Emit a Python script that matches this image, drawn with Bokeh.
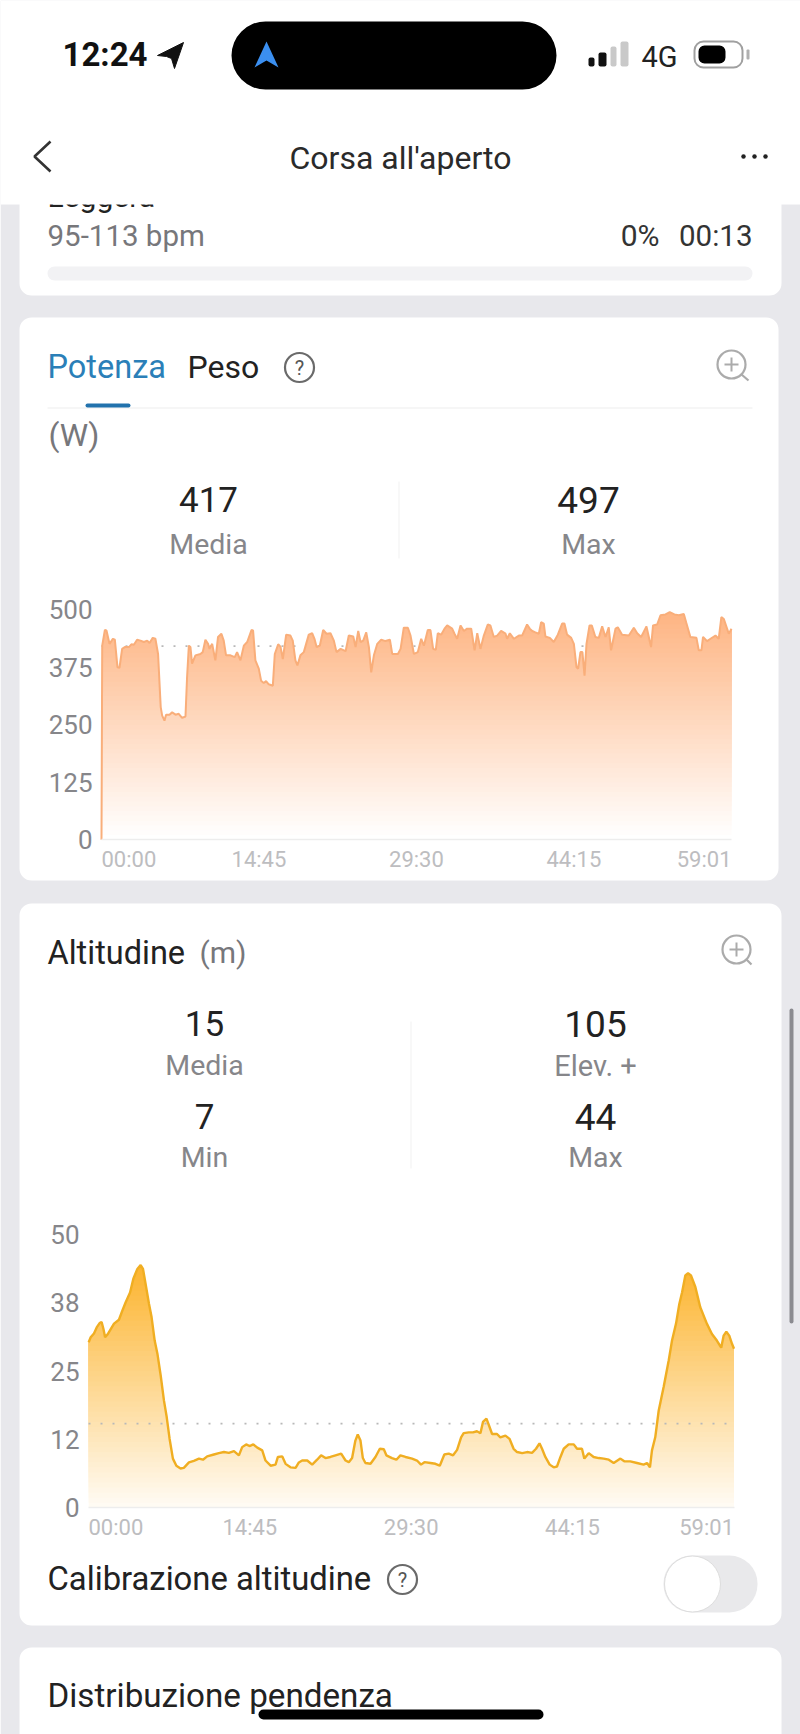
from bokeh.plotting import figure
from bokeh.models import Range1d, LinearAxis, FixedTicker
from bokeh.core.properties import value
from bokeh.embed import file_html
from bokeh.resources import INLINE

# ---------- chart data ----------
power_t = [0,4,19,28,45,64,75,90,101,116,131,154,168,182,200,219,238,257,270,288,303,318,333,341,354,363,382,397,416,434,453,472,481,491,500,509,528,556,569,584,599,607,622,640,655,674,687,700,725,749,762,781,800,819,843,852,865,884,897,912,925,940,963,974,993,1006,1019,1038,1062,1075,1090,1101,1118,1137,1165,1184,1197,1209,1227,1246,1265,1287,1306,1321,1344,1372,1390,1415,1428,1443,1456,1471,1488,1503,1516,1531,1550,1572,1596,1621,1634,1666,1681,1699,1722,1737,1756,1778,1797,1812,1834,1849,1864,1879,1890,1909,1928,1943,1971,1984,1999,2018,2037,2055,2078,2097,2112,2130,2149,2171,2186,2205,2224,2246,2271,2280,2295,2318,2346,2364,2392,2407,2421,2439,2458,2471,2486,2495,2520,2542,2565,2589,2602,2617,2640,2655,2670,2679,2692,2703,2715,2726,2743,2756,2776,2795,2814,2833,2851,2864,2889,2902,2926,2964,2992,3011,3033,3063,3089,3100,3123,3142,3170,3194,3220,3245,3273,3286,3310,3344,3357,3372,3381,3404,3423,3451,3469,3484,3498,3526,3541]
power_w = [0,422,456,455,426,437,435,375,374,415,419,419,425,424,435,433,430,433,428,439,437,404,288,270,259,272,272,277,272,274,265,268,354,422,419,383,401,404,408,435,426,415,426,390,441,448,433,401,401,397,408,390,422,430,456,455,390,372,346,341,345,338,335,404,425,420,393,446,444,433,390,379,401,408,446,449,437,419,422,456,448,449,433,408,415,410,444,442,419,454,430,433,451,419,364,401,426,435,432,435,404,404,415,461,461,444,404,408,437,422,456,456,415,413,449,446,459,466,459,448,437,466,454,459,459,412,449,415,444,468,466,441,444,454,448,437,449,437,444,444,468,459,454,451,448,473,470,442,439,430,446,470,470,446,439,426,375,372,408,408,357,426,466,466,441,439,464,441,462,412,459,462,446,444,461,449,441,464,419,466,468,488,490,495,490,488,491,473,441,439,412,412,441,432,437,444,437,484,480,448,459]

alt_t = [1,12,30,45,61,72,82,91,104,122,140,167,186,204,228,246,268,286,299,313,332,346,363,378,396,414,429,445,463,482,505,523,551,578,606,628,651,688,715,743,770,798,825,843,865,883,904,926,953,971,999,1026,1039,1063,1081,1108,1136,1154,1172,1200,1227,1254,1276,1300,1327,1355,1386,1410,1428,1446,1464,1477,1492,1505,1519,1547,1574,1598,1620,1634,1665,1689,1711,1739,1775,1802,1824,1843,1876,1903,1927,1952,1976,2000,2022,2044,2058,2086,2109,2131,2150,2164,2183,2197,2214,2241,2259,2287,2310,2332,2351,2379,2406,2433,2455,2474,2488,2506,2530,2552,2570,2589,2607,2634,2662,2680,2707,2720,2744,2771,2799,2826,2854,2881,2918,2939,2972,3009,3045,3064,3080,3091,3109,3128,3155,3183,3201,3223,3241,3256,3274,3289,3305,3329,3356,3392,3420,3447,3471,3484,3499,3515,3530,3541]
alt_m = [30.3,31.2,31.9,33.0,33.8,34.0,32.7,31.2,31.7,32.7,33.7,34.4,36.1,37.6,39.4,41.9,43.7,44.4,43.7,41.0,37.3,34.9,30.6,28.2,24.2,19.6,16.6,12.6,9.0,7.7,7.2,7.3,8.3,8.6,9.0,8.8,9.4,9.75,10.0,10.2,10.05,10.36,9.6,11.1,11.6,11.3,11.6,11.0,10.5,8.65,7.7,7.9,9.3,9.4,8.04,7.4,7.3,8.3,8.65,8.65,7.9,8.8,9.6,9.1,9.3,9.6,9.9,8.65,8.35,9.1,12.3,13.4,12.3,9.1,8.2,8.05,9.3,10.8,10.7,9.6,9.1,8.8,9.6,9.3,9.0,8.65,7.9,8.35,8.2,8.05,7.7,9.75,9.9,9.6,10.6,12.9,13.65,13.8,13.8,14.0,13.65,15.7,16.3,15.05,13.5,13.5,12.9,13.2,12.6,10.8,10.2,10.0,10.2,10.05,10.8,11.8,10.8,9.3,7.9,7.4,7.55,9.3,10.8,11.6,11.6,10.8,10.8,9.0,10.0,9.3,9.1,9.0,8.8,8.2,9.0,8.5,8.5,8.2,7.9,8.2,7.4,10.5,12.9,17.8,22.1,27.0,30.6,33.7,37.3,39.4,42.5,42.9,42.5,40.4,36.7,33.7,31.8,30.6,29.3,31.5,32.2,31.5,30.0,29.1]

power_y_ticks = [0, 125, 250, 375, 500]
alt_y_ticks = [0, 12.5, 25, 37.5, 50]
alt_y_labels = {0: "0", 12.5: "12", 25: "25", 37.5: "38", 50: "50"}
time_ticks = [885, 1770, 2655]
time_labels = {885: "14:45", 1770: "29:30", 2655: "44:15"}
time_start, time_end = 0, 3541
time_start_label, time_end_label = "00:00", "59:01"
power_avg, alt_avg = 421, 15.4

# ---------- page geometry (pixels) ----------
W, H = 800, 1734
GRAY = "#e8e8ec"
FONT = "Roboto"


def span_range(p0, v0, p1, v1, lo, hi):
    k = (v1 - v0) / (p1 - p0)
    return Range1d(start=v0 + (lo - p0) * k, end=v0 + (hi - p0) * k)


p = figure(width=W, height=H, output_backend="svg", toolbar_location=None,
           x_range=Range1d(0, W), y_range=Range1d(H, 0),
           min_border=0, outline_line_color=None, background_fill_color="white",
           border_fill_color="white", margin=(0, 0, 0, 0))
p.xaxis.visible = False
p.yaxis.visible = False
p.grid.visible = False

p.extra_x_ranges = {
    "pw": span_range(101, time_start, 731, time_end, 0, W),
    "al": span_range(88, time_start, 733.5, time_end, 0, W),
}
p.extra_y_ranges = {
    "pw": span_range(839.3, 0, 609.3, 500, H, 0),
    "al": span_range(1507.3, 0, 1234, 50, H, 0),
}


def box(l, r, t, b, c, radius=0, **kw):
    p.quad(left=[l], right=[r], top=[t], bottom=[b], fill_color=c, line_color=None,
           border_radius=radius, **kw)


def label(x, y, s, size, color, align="left", weight="normal", xr="default", yr="default"):
    p.text(x=[x], y=[y], text=[s], text_font=value(FONT), text_font_size=value(f"{size}px"),
           text_color=color, text_align=align, text_baseline="middle", text_font_style=weight,
           x_range_name=xr, y_range_name=yr)


def qmark(x, y):
    p.scatter(x=[x], y=[y], marker="circle", size=29, fill_color=None, line_color="#6a6a6a", line_width=2.2)
    label(x, y, "?", 20, "#555555", "center")


def magnifier(x, y, x2, y2):
    p.scatter(x=[x], y=[y], marker="circle", size=28, fill_color=None, line_color="#ababab", line_width=2.2)
    p.line(x=[x + 10, x2], y=[y + 10, y2], line_color="#ababab", line_width=2.2)
    p.line(x=[x - 7, x + 7], y=[y, y], line_color="#ababab", line_width=2)
    p.line(x=[x, x], y=[y - 7, y + 7], line_color="#ababab", line_width=2)


def gradient_area(ts, vs, xr, top_level, top_rgb, bottom_rgb, layers=48):
    for k in range(layers):
        f = k / (layers - 1)
        level = top_level * k / layers
        rgb = tuple(int(round(b + (a - b) * f)) for a, b in zip(top_rgb, bottom_rgb))
        p.varea(x=ts, y1=[min(level, v) for v in vs], y2=vs, fill_color="#%02x%02x%02x" % rgb,
                x_range_name=xr, y_range_name=xr)


def chart_axes(rng, y_ticks, y_over, lab_size, baseline):
    yax = LinearAxis(x_range_name=rng, y_range_name=rng, fixed_location=time_start,
                     ticker=FixedTicker(ticks=y_ticks), major_label_overrides=y_over,
                     axis_line_color=None, major_tick_line_color=None, minor_tick_line_color=None,
                     major_label_text_color="#86868a", major_label_text_font=FONT,
                     major_label_text_font_size=f"{lab_size}px", major_label_standoff=3,
                     bounds=(0, 50 if rng == "al" else 500))
    p.add_layout(yax, "left")
    xax = LinearAxis(x_range_name=rng, y_range_name=rng, fixed_location=0,
                     ticker=FixedTicker(ticks=time_ticks), major_label_overrides=time_labels,
                     axis_line_color="#ededed", axis_line_width=1.5, major_tick_line_color=None, minor_tick_line_color=None,
                     major_label_text_color="#bdbdc0", major_label_text_font=FONT,
                     major_label_text_font_size="22px", major_label_standoff=baseline,
                     bounds=(time_start, time_end))
    p.add_layout(xax, "below")


# ---------- page background and cards ----------
box(0, W, H, 0, GRAY)
box(19, 781, 295, 150, "white", 12)
box(19, 778, 880, 317, "white", 12)
box(19, 781, 1625, 903, "white", 12)
box(19, 781, 1760, 1647, "white", 12)

# ---------- heart-rate card remnant ----------
label(47, 196, "Leggera", 30, "#222222")
label(47, 235, "95-113 bpm", 29.5, "#77777b")
label(659, 235, "0%", 30, "#333333", "right")
label(752, 235, "00:13", 29.5, "#333333", "right")
box(47, 752, 280, 266, "#f2f2f4", 7)

# ---------- status bar + header ----------
box(0, W, 204, 0, "white")
label(62, 54, "12:24", 33, "#111111", weight="bold")
p.patch(x=[157, 183, 174, 171, 166], y=[55, 42, 68, 58, 56], fill_color="#111111", line_color="#111111")
box(231, 556, 89, 21, "black", 34)
p.patch(x=[266, 278, 266, 254], y=[41, 67, 60, 67], fill_color="#3b8ff0", line_color=None)
box(588, 594, 66, 57, "#111111", 2)
box(598, 606, 66, 52, "#111111", 2)
box(610, 616, 66, 46, "#c9c9c9", 2)
box(620, 628, 66, 41, "#c9c9c9", 2)
label(641, 56, "4G", 29, "#222222")
p.quad(left=[694], right=[742], top=[67], bottom=[41], fill_color="white", line_color="#a0a0a0", line_width=2, border_radius=9)
box(698, 725, 63, 45, "black", 6)
box(746, 749, 59, 49, "#b0b0b0", 1)
p.line(x=[50, 34, 50], y=[141, 156, 171], line_color="#333333", line_width=2.6)
label(400, 157, "Corsa all'aperto", 32, "#2a2a2a", "center")
p.scatter(x=[743, 754, 765], y=[156, 156, 156], marker="circle", size=4.5, fill_color="#222222", line_color=None)

# ---------- power card ----------
label(47, 366, "Potenza", 32.5, "#2b7fb8")
label(187, 366, "Peso", 32, "#222222")
qmark(299, 367)
magnifier(731, 364, 748, 380)
box(47, 752, 408, 407, "#eeeeee")
box(85, 130, 407, 403, "#2272ad", 2)
label(48, 434, "(W)", 32, "#77777b")
label(208, 499, "417", 35, "#222222", "center")
label(208, 544, "Media", 28.5, "#86868a", "center")
label(588, 499, "497", 37, "#222222", "center")
label(588, 544, "Max", 28.5, "#86868a", "center")
box(398, 399, 558, 481, "#f1f1f1")

p.line(x=[time_start, time_end], y=[power_avg, power_avg], x_range_name="pw", y_range_name="pw",
       line_color="#b8b8b8", line_width=1.6, line_dash="2 10")
gradient_area(power_t, power_w, "pw", 500, (254, 180, 130), (255, 255, 255))
p.line(x=power_t, y=power_w, x_range_name="pw", y_range_name="pw", line_color="#f9ae7a", line_width=2)
chart_axes("pw", power_y_ticks, {}, 26, 1)
label(time_start, 0, time_start_label, 22, "#bdbdc0", xr="pw", yr="pw")
p.renderers[-1].glyph.y_offset = 20
label(time_end, 0, time_end_label, 22, "#bdbdc0", "right", xr="pw", yr="pw")
p.renderers[-1].glyph.y_offset = 20

# ---------- altitude card ----------
label(47, 952, "Altitudine", 32.5, "#222222")
label(199, 952, "(m)", 30, "#77777b")
magnifier(736, 949, 751, 964)
label(204, 1023, "15", 35, "#222222", "center")
label(204, 1065, "Media", 28.5, "#86868a", "center")
label(204, 1116, "7", 35, "#222222", "center")
label(204, 1157, "Min", 28.5, "#86868a", "center")
label(595, 1023, "105", 37, "#222222", "center")
label(595, 1065, "Elev. +", 29, "#86868a", "center")
label(595, 1116, "44", 37, "#222222", "center")
label(595, 1157, "Max", 28.5, "#86868a", "center")
box(410, 411, 1168, 1021, "#f1f1f1")

gradient_area(alt_t, alt_m, "al", 44.4, (252, 180, 48), (255, 251, 243))
p.line(x=[time_start, time_end], y=[alt_avg, alt_avg], x_range_name="al", y_range_name="al",
       line_color="#b8b8b8", line_width=1.6, line_dash="2 10")
p.line(x=alt_t, y=alt_m, x_range_name="al", y_range_name="al", line_color="#f0ae22", line_width=2.4)
chart_axes("al", alt_y_ticks, alt_y_labels, 26, 1)
label(time_start, 0, time_start_label, 22, "#bdbdc0", xr="al", yr="al")
p.renderers[-1].glyph.y_offset = 20
label(time_end, 0, time_end_label, 22, "#bdbdc0", "right", xr="al", yr="al")
p.renderers[-1].glyph.y_offset = 20

# ---------- calibration row, next card ----------
label(47, 1578, "Calibrazione altitudine", 32.8, "#222222")
qmark(402, 1579)
box(663, 757, 1612, 1555, "#e9e9eb", 28)
p.scatter(x=[692], y=[1583.5], marker="circle", size=56, fill_color="white", line_color="#dddddd", line_width=1)
label(47, 1695, "Distribuzione pendenza", 33.2, "#222222")
box(258, 543, 1719, 1709, "black", 5)

# ---------- scrollbar ----------
box(789, 793, 1323, 1008, "#8b8b90", 2)

open("out.html", "w").write(file_html(p, INLINE))
